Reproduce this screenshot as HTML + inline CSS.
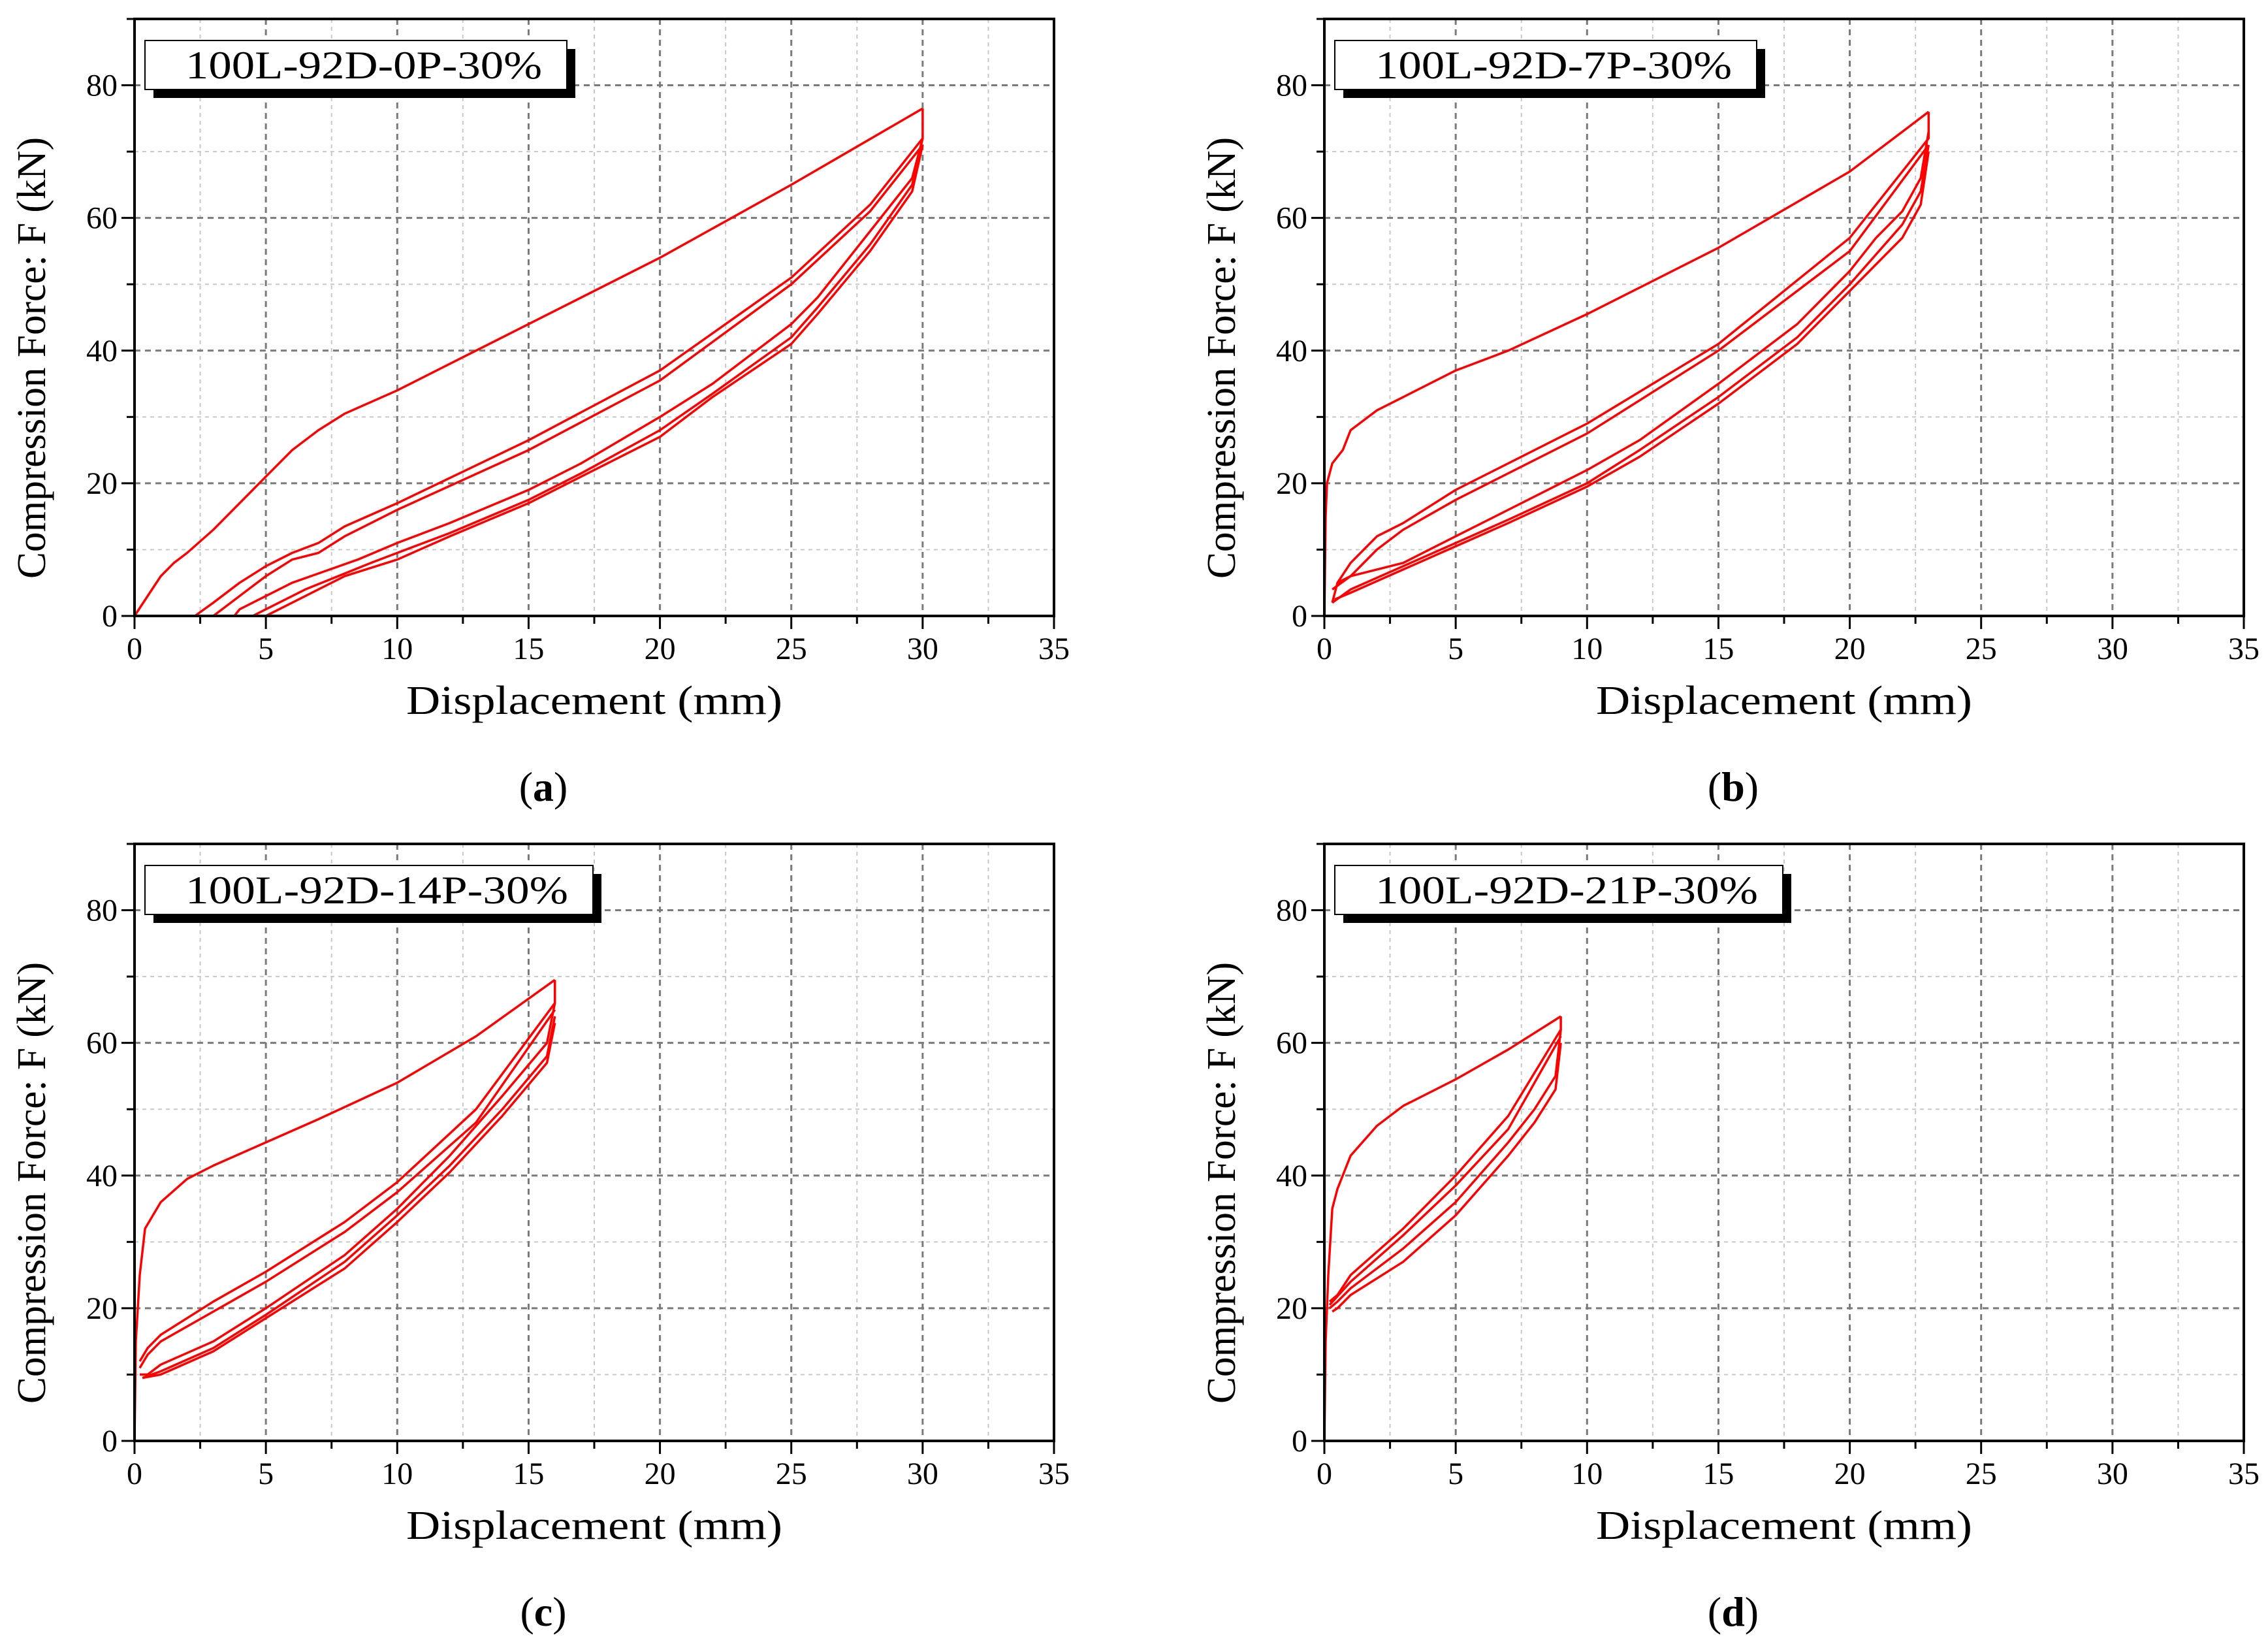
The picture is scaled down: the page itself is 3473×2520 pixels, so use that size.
<!DOCTYPE html>
<html><head><meta charset="utf-8"><style>
html,body{margin:0;padding:0;background:#fff}
svg{display:block}
text{font-family:"Liberation Serif",serif;fill:#000}
</style></head><body>
<svg id="fig" xmlns="http://www.w3.org/2000/svg" width="3473" height="2520" viewBox="0 0 3473 2520">
<rect width="3473" height="2520" fill="#fff"/>
</svg>
<script>
// ---- data (x: displacement mm, y: force kN) ----
const xTicks = [0,5,10,15,20,25,30,35];
const yTicks = [0,20,40,60,80];
const legendLabels = ["100L-92D-0P-30%","100L-92D-7P-30%","100L-92D-14P-30%","100L-92D-21P-30%"];
const panelLabels = ["a","b","c","d"];

const aLoadX=[0,0.5,1,1.5,2,3,4,5,6,7,8,10,12,15,20,25,30];
const aLoadY=[0,3,6,8,9.5,13,17,21,25,28,30.5,34,38,44,54,65,76.5];
const aRel1X=[0,2.3,3,4,5,6,7,8,10,15,20,25,28,30,30];
const aRel1Y=[0,0,2,5,7.5,9.5,11,13.5,17,26.5,37,51,62,72,76.5];
const aRel2X=[3,4,5,6,7,8,10,15,20,25,28,30];
const aRel2Y=[0,3,6,8.5,9.5,12,16,25,35.5,50,61,71];
const aUn1X=[30,29.6,28,26,25,22,20,17,15,12,10,8.5,6,4,3.8];
const aUn1Y=[72,66,58,48,44,35,30,23,19,14,11,8.5,5,1,0];
const aUn2X=[30,29.6,28,26,25,22,20,17,15,12,10,9,6.5,5,4.5];
const aUn2Y=[72,65,56,46.5,42,33.5,28,21.5,17.5,12.5,9.5,8,4,1,0];
const aUn3X=[30,29.6,28,26,25,22,20,17,15,12,10,8,6,5];
const aUn3Y=[71,64,55,45.5,41,33,27,21,17,12,8.5,6,2,0];

const bLoadX=[0,0.05,0.1,0.3,0.7,1,2,3,5,7,10,15,20,23];
const bLoadY=[0,15,20,23,25,28,31,33,37,40,45.5,55.5,67,76];
const bRel1X=[0.5,1,2,3,5,10,15,20,23,23];
const bRel1Y=[5,8,12,14,19,29,41,57,72,76];
const bRel2X=[0.3,1,2,3,5,10,15,20,23];
const bRel2Y=[4,6,10,13,17.5,27.5,40,55,71];
const bUn1X=[23,22.7,22,21,20,18,15,12,10,7,5,3,2,1,0.5,0.3];
const bUn1Y=[73,66,61,57,52,44,35,26.5,22,16,12,8,7,6,5,2];
const bUn2X=[23,22.7,22,20,18,15,12,10,7,5,3,1,0.3];
const bUn2Y=[71,64,59,50,42,33,25,20,14.5,11,7.5,4,2];
const bUn3X=[23,22.7,22,20,18,15,12,10,7,5,3,1,0.4];
const bUn3Y=[70,62,57,49,41,32,24,19.5,14,10.5,7,3.5,2.5];

const cLoadX=[0,0.05,0.2,0.4,1,2,3,5,7,10,13,16];
const cLoadY=[0,15,25,32,36,39.5,41.5,45,48.5,54,61,69.5];
const cRel1X=[0.2,0.5,1,3,5,8,10,13,16,16];
const cRel1Y=[12,14,16,21,25.5,33,39,50,66,69.5];
const cRel2X=[0.2,0.5,1,3,5,8,10,13,16];
const cRel2Y=[11,13,15,19.5,24,31.5,37.5,48,65];
const cUn1X=[16,15.7,14,12,10,8,5,3,1,0.5,0.2];
const cUn1Y=[66,60,52,43,35,28,20,15,11.5,10,10];
const cUn2X=[16,15.7,14,12,10,8,5,3,1,0.3];
const cUn2Y=[64,58,50,41.5,34,27,19,14,10.5,9.5];
const cUn3X=[16,15.7,14,12,10,8,5,3,1,0.3];
const cUn3Y=[63,57,49,40.5,33,26,18.5,13.5,10,9.5];

const dLoadX=[0,0.05,0.15,0.3,0.5,1,2,3,5,7,9];
const dLoadY=[0,15,25,35,38,43,47.5,50.5,54.5,59,64];
const dRel1X=[0.2,0.5,1,3,5,7,9,9];
const dRel1Y=[21,22,25,32,40,49,62,64];
const dRel2X=[0.2,1,3,5,7,9];
const dRel2Y=[20.5,24,31,38.5,47,61];
const dUn1X=[9,8.8,8,7,5,3,1,0.5,0.2];
const dUn1Y=[62,55,50,45,36,29,23,21,20];
const dUn2X=[9,8.8,8,7,5,3,1,0.5,0.3];
const dUn2Y=[60,53,48,43,34,27,22,20,19.5];

const seriesX=[[aLoadX,aRel1X,aRel2X,aUn1X,aUn2X,aUn3X],[bLoadX,bRel1X,bRel2X,bUn1X,bUn2X,bUn3X],[cLoadX,cRel1X,cRel2X,cUn1X,cUn2X,cUn3X],[dLoadX,dRel1X,dRel2X,dUn1X,dUn2X]];
const seriesY=[[aLoadY,aRel1Y,aRel2Y,aUn1Y,aUn2Y,aUn3Y],[bLoadY,bRel1Y,bRel2Y,bUn1Y,bUn2Y,bUn3Y],[cLoadY,cRel1Y,cRel2Y,cUn1Y,cUn2Y,cUn3Y],[dLoadY,dRel1Y,dRel2Y,dUn1Y,dUn2Y]];

// ---- drawing ----
const NS="http://www.w3.org/2000/svg";
const svg=document.getElementById('fig');
function mk(tag,attrs,parent){const e=document.createElementNS(NS,tag);for(const k in attrs)e.setAttribute(k,attrs[k]);(parent||svg).appendChild(e);return e;}
const origins=[[206,29],[2028,29],[206,1292],[2028,1292]];
const PW=1408, PH=914, XMAX=35, YMAX=90;
const legendW=[646,646,686,686];

origins.forEach((o,pi)=>{
  const L=o[0],T=o[1],B=T+PH,R=L+PW;
  const sx=v=>L+v/XMAX*PW;
  const sy=v=>B-v/YMAX*PH;
  const g=mk('g',{});
  
  
  for(let v=2.5;v<XMAX;v+=5){const l=mk('line',{x1:sx(v),x2:sx(v),y1:T,y2:B,stroke:'#c8c8c8','stroke-width':2,'stroke-dasharray':'6 6'},g);}
  for(let v=10;v<YMAX;v+=20){const l=mk('line',{x1:L,x2:R,y1:sy(v),y2:sy(v),stroke:'#c8c8c8','stroke-width':2,'stroke-dasharray':'6 6'},g);}
  xTicks.forEach(v=>{if(v>0&&v<XMAX){const l=mk('line',{x1:sx(v),x2:sx(v),y1:T,y2:B,stroke:'#7a7a7a','stroke-width':3,'stroke-dasharray':'9 7'},g);}});
  yTicks.forEach(v=>{if(v>0){const l=mk('line',{x1:L,x2:R,y1:sy(v),y2:sy(v),stroke:'#7a7a7a','stroke-width':3,'stroke-dasharray':'9 7'},g);}});
  seriesX[pi].forEach((xs,si)=>{
    const ys=seriesY[pi][si];
    const pts=xs.map((x,i)=>sx(x).toFixed(1)+','+sy(ys[i]).toFixed(1)).join(' ');
    const p=mk('polyline',{points:pts,fill:'none',stroke:'#ff0000','stroke-width':3.5,'stroke-linejoin':'round'},g);
    
    
  });
  const fr=mk('rect',{x:L,y:T,width:PW,height:PH,fill:'none',stroke:'#000','stroke-width':4},g);
  
  for(let v=0;v<=XMAX;v+=2.5){const maj=(v%5===0);const l=mk('line',{x1:sx(v),x2:sx(v),y1:B,y2:B+(maj?20:12),stroke:'#000','stroke-width':3},g);}
  for(let v=0;v<=YMAX;v+=10){const maj=(v%20===0);const l=mk('line',{x1:L,x2:L-(maj?20:12),y1:sy(v),y2:sy(v),stroke:'#000','stroke-width':3},g);}
  xTicks.forEach(v=>{const t=mk('text',{x:sx(v),y:B+66,'font-size':48,'text-anchor':'middle'},g);t.textContent=v;});
  yTicks.forEach(v=>{const t=mk('text',{x:L-26,y:sy(v)+16,'font-size':48,'text-anchor':'end'},g);t.textContent=v;});
  const xt=mk('text',{x:L+PW/2,y:B+150,'font-size':62,'text-anchor':'middle',textLength:576,lengthAdjust:'spacingAndGlyphs'},g);
  xt.textContent='Displacement (mm)';
  const cy=T+PH/2+62;
  const yt=mk('text',{x:0,y:0,'font-size':62,'text-anchor':'middle',textLength:676,lengthAdjust:'spacingAndGlyphs',transform:`translate(${L-137},${cy}) rotate(-90)`},g);
  yt.textContent='Compression Force: F (kN)';
  const lx=L+16,ly=T+33,lw=legendW[pi],lh=75;
  const sh=mk('rect',{x:lx+13,y:ly+13,width:lw,height:lh,fill:'#000'},g);
  const lb=mk('rect',{x:lx,y:ly,width:lw,height:lh,fill:'#fff',stroke:'#000','stroke-width':2},g);
  const lt=mk('text',{x:lx+62,y:ly+58,'font-size':60,textLength:lw-100,lengthAdjust:'spacingAndGlyphs'},g);
  lt.textContent=legendLabels[pi];
  const pl=mk('text',{x:L+PW/2-78,y:B+283,'font-size':64,'text-anchor':'middle'},g);
  
  const s1=mk('tspan',{},pl);s1.textContent='(';
  const s2=mk('tspan',{'font-weight':'bold'},pl);s2.textContent=panelLabels[pi];
  const s3=mk('tspan',{},pl);s3.textContent=')';
});
</script>
</body></html>
